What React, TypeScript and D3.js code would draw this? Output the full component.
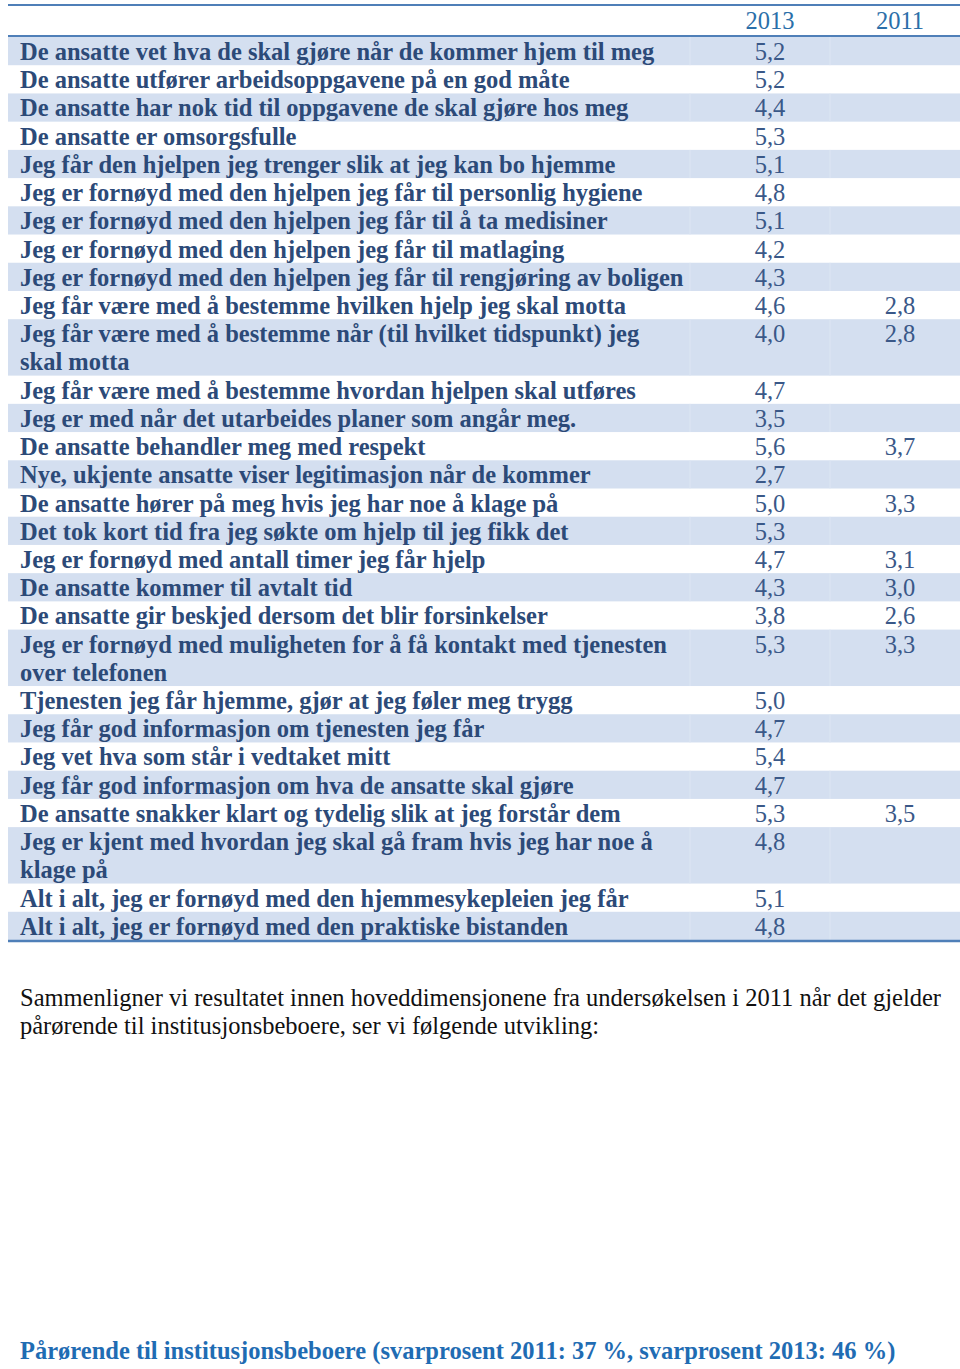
import React from "react";
import * as d3 from "d3";

// rows of the table: label lines, 2013 value, 2011 value (null = blank)
const labels: string[][] = [
  ["De ansatte vet hva de skal gjøre når de kommer hjem til meg"],
  ["De ansatte utfører arbeidsoppgavene på en god måte"],
  ["De ansatte har nok tid til oppgavene de skal gjøre hos meg"],
  ["De ansatte er omsorgsfulle"],
  ["Jeg får den hjelpen jeg trenger slik at jeg kan bo hjemme"],
  ["Jeg er fornøyd med den hjelpen jeg får til personlig hygiene"],
  ["Jeg er fornøyd med den hjelpen jeg får til å ta medisiner"],
  ["Jeg er fornøyd med den hjelpen jeg får til matlaging"],
  ["Jeg er fornøyd med den hjelpen jeg får til rengjøring av boligen"],
  ["Jeg får være med å bestemme hvilken hjelp jeg skal motta"],
  ["Jeg får være med å bestemme når (til hvilket tidspunkt) jeg", "skal motta"],
  ["Jeg får være med å bestemme hvordan hjelpen skal utføres"],
  ["Jeg er med når det utarbeides planer som angår meg."],
  ["De ansatte behandler meg med respekt"],
  ["Nye, ukjente ansatte viser legitimasjon når de kommer"],
  ["De ansatte hører på meg hvis jeg har noe å klage på"],
  ["Det tok kort tid fra jeg søkte om hjelp til jeg fikk det"],
  ["Jeg er fornøyd med antall timer jeg får hjelp"],
  ["De ansatte kommer til avtalt tid"],
  ["De ansatte gir beskjed dersom det blir forsinkelser"],
  ["Jeg er fornøyd med muligheten for å få kontakt med tjenesten", "over telefonen"],
  ["Tjenesten jeg får hjemme, gjør at jeg føler meg trygg"],
  ["Jeg får god informasjon om tjenesten jeg får"],
  ["Jeg vet hva som står i vedtaket mitt"],
  ["Jeg får god informasjon om hva de ansatte skal gjøre"],
  ["De ansatte snakker klart og tydelig slik at jeg forstår dem"],
  ["Jeg er kjent med hvordan jeg skal gå fram hvis jeg har noe å", "klage på"],
  ["Alt i alt, jeg er fornøyd med den hjemmesykepleien jeg får"],
  ["Alt i alt, jeg er fornøyd med den praktiske bistanden"],
];

const values2013: number[] = [
  5.2, 5.2, 4.4, 5.3, 5.1, 4.8, 5.1, 4.2, 4.3, 4.6, 4.0, 4.7, 3.5, 5.6, 2.7,
  5.0, 5.3, 4.7, 4.3, 3.8, 5.3, 5.0, 4.7, 5.4, 4.7, 5.3, 4.8, 5.1, 4.8,
];

const values2011: (number | null)[] = [
  null, null, null, null, null, null, null, null, null, 2.8, 2.8, null, null, 3.7, null,
  3.3, null, 3.1, 3.0, 2.6, 3.3, null, null, null, null, 3.5, null, null, null,
];

const years = ["2013", "2011"];

const paragraph = [
  "Sammenligner vi resultatet innen hoveddimensjonene fra undersøkelsen i 2011 når det gjelder",
  "pårørende til institusjonsbeboere, ser vi følgende utvikling:",
];
const caption = "Pårørende til institusjonsbeboere (svarprosent 2011: 37 %, svarprosent 2013: 46 %)";

const nb = d3.formatLocale({ decimal: ",", thousands: " ", grouping: [3], currency: ["", " kr"] });
const fmt = nb.format(".1f");

export default function App() {
  const W = 960, H = 1369;
  const left = 8, right = 960;
  const colX = [left, 690, 830, right];
  const fs = 24.5;
  const base = 23; // baseline offset inside a line

  // cumulative line index for each row
  const starts: number[] = [];
  let acc = 0;
  labels.forEach((l) => { starts.push(acc); acc += l.length; });
  const totalLines = acc;

  const y = d3.scaleLinear().domain([0, totalLines]).range([37, 940]);
  const lineH = y(1) - y(0);
  const xVal = d3.scalePoint<string>().domain(years).range([770, 900]);

  const serif = "'Liberation Serif', 'Times New Roman', serif";

  return (
    <svg width={W} height={H} style={{ position: "absolute", left: 0, top: 0, background: "#fff" }}
      fontFamily={serif}>
      {/* shaded rows */}
      {labels.map((l, i) => i % 2 === 0 ? (
        <g key={"s" + i}>
          <rect x={left} y={y(starts[i])} width={right - left}
            height={y(starts[i] + l.length) - y(starts[i])} fill="#d4dff0" />
          {[1, 2].map((c) => (
            <line key={c} x1={colX[c]} x2={colX[c]} y1={y(starts[i])} y2={y(starts[i] + l.length)}
              stroke="#dde6f3" strokeWidth={1} />
          ))}
        </g>
      ) : null)}

      {/* rules */}
      <line x1={left} x2={right} y1={5} y2={5} stroke="#4f7fb8" strokeWidth={2} />
      <line x1={left} x2={right} y1={36} y2={36} stroke="#4f7fb8" strokeWidth={2} />
      <line x1={left} x2={right} y1={941} y2={941} stroke="#4f7fb8" strokeWidth={2.5} />

      {/* header */}
      {years.map((yr) => (
        <text key={yr} x={xVal(yr)} y={29} textAnchor="middle" fontSize={fs} fill="#2b6fa9">{yr}</text>
      ))}

      {/* labels */}
      {labels.map((l, i) => l.map((t, j) => (
        <text key={i + "-" + j} x={20} y={y(starts[i] + j) + base} fontSize={fs} fontWeight="bold" fill="#2c4a78">{t}</text>
      )))}

      {/* values */}
      {values2013.map((v, i) => (
        <text key={"a" + i} x={xVal("2013")} y={y(starts[i]) + base} textAnchor="middle" fontSize={fs} fill="#3a5888">{fmt(v)}</text>
      ))}
      {values2011.map((v, i) => v == null ? null : (
        <text key={"b" + i} x={xVal("2011")} y={y(starts[i]) + base} textAnchor="middle" fontSize={fs} fill="#3a5888">{fmt(v)}</text>
      ))}

      {/* paragraph */}
      {paragraph.map((p, i) => (
        <text key={"p" + i} x={20} y={1006 + i * lineH} fontSize={fs} fill="#111">{p}</text>
      ))}

      {/* caption */}
      <text x={20} y={1359} fontSize={fs} fontWeight="bold" fill="#1f6cb3">{caption}</text>
    </svg>
  );
}
